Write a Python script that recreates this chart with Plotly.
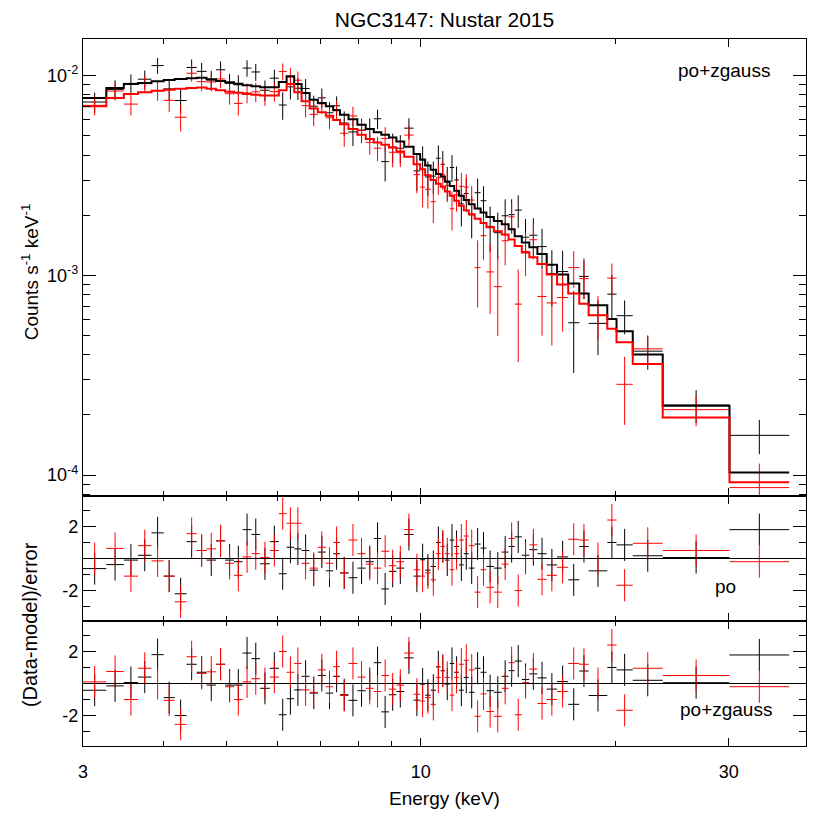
import numpy as np
import plotly.graph_objects as go
from plotly.subplots import make_subplots

# ---------------- data ----------------
# energy bin edges (keV), shared by both detectors
bin_edges = [3.0, 3.26, 3.47, 3.65, 3.83, 4.0, 4.16, 4.34, 4.50, 4.66, 4.82, 4.98, 5.14, 5.30,
             5.47, 5.64, 5.84, 6.03, 6.20, 6.37, 6.54, 6.73, 6.93, 7.13, 7.32, 7.50, 7.73, 7.98,
             8.22, 8.46, 8.69, 8.93, 9.17, 9.43, 9.75, 9.98, 10.16, 10.36, 10.56, 10.74, 10.9,
             11.09, 11.27, 11.46, 11.66, 11.87, 12.12, 12.38, 12.64, 12.98, 13.35, 13.68, 13.98,
             14.34, 14.73, 15.16, 15.67, 16.26, 16.92, 17.6, 18.2, 19.45, 20.1, 21.3, 23.7, 30.07, 37.2]

# po+zgauss folded model (counts/s/keV), black = FPMA, red = FPMB
model_black = [7.73e-3, 8.67e-3, 9.08e-3, 9.19e-3, 9.37e-3, 9.5e-3, 9.62e-3, 9.7e-3, 9.75e-3, 9.6e-3,
               9.4e-3, 9.25e-3, 9.1e-3, 8.95e-3, 8.85e-3, 8.75e-3, 8.75e-3, 9.3e-3, 9.92e-3, 9.08e-3,
               8.18e-3, 7.57e-3, 7.3e-3, 7.02e-3, 6.7e-3, 6.37e-3, 6.05e-3, 5.67e-3, 5.4e-3, 5.2e-3,
               5.05e-3, 4.9e-3, 4.68e-3, 4.4e-3, 4.05e-3, 3.8e-3, 3.55e-3, 3.38e-3, 3.22e-3, 3.12e-3,
               2.95e-3, 2.8e-3, 2.65e-3, 2.5e-3, 2.38e-3, 2.27e-3, 2.16e-3, 2.06e-3, 1.96e-3, 1.87e-3,
               1.8e-3, 1.7e-3, 1.57e-3, 1.46e-3, 1.38e-3, 1.28e-3, 1.13e-3, 1.01e-3, 9.1e-4, 8.1e-4,
               7.07e-4, 6.05e-4, 5.25e-4, 4.01e-4, 2.22e-4, 1.03e-4]
model_red = [7.02e-3, 7.73e-3, 8.09e-3, 8.25e-3, 8.4e-3, 8.5e-3, 8.6e-3, 8.68e-3, 8.72e-3, 8.6e-3,
             8.45e-3, 8.3e-3, 8.2e-3, 8.1e-3, 8.02e-3, 7.95e-3, 7.95e-3, 8.45e-3, 9.08e-3, 8.25e-3,
             7.43e-3, 6.85e-3, 6.55e-3, 6.3e-3, 6.0e-3, 5.7e-3, 5.4e-3, 5.05e-3, 4.82e-3, 4.63e-3,
             4.5e-3, 4.36e-3, 4.17e-3, 3.92e-3, 3.6e-3, 3.4e-3, 3.17e-3, 3.0e-3, 2.87e-3, 2.78e-3,
             2.63e-3, 2.5e-3, 2.36e-3, 2.23e-3, 2.12e-3, 2.02e-3, 1.92e-3, 1.83e-3, 1.74e-3, 1.66e-3,
             1.6e-3, 1.51e-3, 1.4e-3, 1.3e-3, 1.23e-3, 1.14e-3, 1.01e-3, 9.0e-4, 8.1e-4, 7.2e-4,
             6.3e-4, 5.4e-4, 4.62e-4, 3.6e-4, 1.94e-4, 9.2e-5]

# 1-sigma error as a fraction of the model level
frac_err = [0.11, 0.11, 0.11, 0.11, 0.11, 0.11, 0.11, 0.11, 0.11, 0.11,
            0.115, 0.115, 0.115, 0.115, 0.115, 0.115, 0.115, 0.12, 0.12, 0.12,
            0.12, 0.12, 0.12, 0.12, 0.12, 0.13, 0.13, 0.13, 0.13, 0.13,
            0.15, 0.15, 0.15, 0.15, 0.17, 0.17, 0.17, 0.17, 0.19, 0.19,
            0.19, 0.19, 0.19, 0.21, 0.21, 0.21, 0.21, 0.21, 0.23, 0.23,
            0.23, 0.23, 0.25, 0.25, 0.25, 0.25, 0.28, 0.28, 0.28, 0.28,
            0.25, 0.33, 0.23, 0.2, 0.19, 0.3]

# (data-model)/error for the po model
resid_po_black = [-0.63, -0.38, -0.1, 0.2, 1.6, -1.1, -2.2, 1.05, 0.5, -0.1, 1.1, -0.1, -0.2, 1.8, 1.5,
                  -0.33, 1.05, -0.95, 0.7, 0.6, 0.5, -0.73, 0.4, -0.77, 0.3, -0.9, -1.2, -0.6, -0.2,
                  1.25, -1.9, -0.8, -0.6, 1.5,
                  -1.1, -0.08, -0.73, -0.5, 1.0, 0.75, -0.1, 1.15, 0.75, -0.4, 0.3, -0.6, 0.9, 0.65,
                  -0.5, -0.6, 0.4, 0.75, 1.35, 0.2, 0.55, 0.3, -0.4, 0.1, -1.33, 0.75, -0.77, 1.0,
                  0.85, 0.17, 0.06, 1.8]
resid_po_red = [0.0, 0.63, -1.1, 0.8, -0.15, -1.1, -2.7, 1.55, 0.5, 0.6, 1.1, -0.3, -1.05, 0.1, 0.3,
                0.06, 0.5, 2.8, 2.2, 2.2, -0.3, -0.6, 0.7, -0.3, 1.0, -0.9, 1.15, 0.3, -0.35, -0.6,
                0.45, -0.45, -0.2, 1.8,
                -0.7, -1.1, -0.9, -1.33, 0.3, 0.75, 0.3, -0.7, 0.3, 1.15, 1.4, 0.8, -2.1, -0.7,
                -1.8, -2.1, -0.35, 1.25, -2.0, 0.0, 0.85, -1.3, -1.05, -0.55, 1.2, 1.15, 0.0, 2.4,
                -1.67, 0.95, 0.5, -0.2]

# (data-model)/error for the po+zgauss model
resid_gs_black = [-0.42, -0.15, 0.06, 0.4, 1.8, -0.88, -2.0, 1.2, 0.7, -0.1, 1.2, -0.1, -0.1, 1.9, 1.55,
                  -0.3, 0.95, -1.95, -0.95, -0.4, 0.45, -0.6, 0.5, -0.6, 0.45, -0.7, -1.05, -0.45, 0.0,
                  1.3, -1.77, -0.7, -0.5, 1.6,
                  -1.04, -0.04, -0.73, -0.42, 1.04, 0.8, -0.04, 1.25, 0.7, -0.42, 0.38, -0.55, 0.95,
                  0.7, -0.45, -0.55, 0.45, 0.8, 1.4, 0.25, 0.6, 0.35, -0.35, 0.12, -1.3, 0.78, -0.75,
                  1.0, 0.85, 0.2, 0.05, 1.78]
resid_gs_red = [0.1, 0.75, -1.0, 0.95, 0.0, -1.05, -2.55, 1.67, 0.63, 0.73, 1.2, -0.2, -1.0, 0.1, 0.3,
                0.0, 0.4, 2.0, 0.7, 1.25, -0.4, -0.55, 0.85, -0.2, 1.05, -0.75, 1.25, 0.4, -0.3, -0.5,
                0.5, -0.35, -0.1, 1.9,
                -0.67, -1.1, -0.88, -1.3, 0.38, 0.8, 0.38, -0.73, 0.38, 1.2, 1.45, 0.85, -2.05, -0.65,
                -1.75, -2.05, -0.3, 1.3, -1.95, 0.05, 0.9, -1.25, -1.0, -0.5, 1.25, 1.2, 0.0, 2.4,
                -1.67, 0.95, 0.5, -0.2]

x_tick_vals = [3, 10, 30]
x_tick_text = ["3", "10", "30"]
y_tick_vals = [1e-4, 1e-3, 1e-2]
y_tick_text = ["10<sup>-4</sup>", "10<sup>-3</sup>", "10<sup>-2</sup>"]
r_tick_vals = [-2, 2]
r_tick_text = ["-2", "2"]

# ---------------- derived ----------------
lo = np.array(bin_edges[:-1])
hi = np.array(bin_edges[1:])
cen = np.sqrt(lo * hi)
ex_plus = hi - cen
ex_minus = cen - lo

mb = np.array(model_black)
mr = np.array(model_red)
sig_b = mb * np.array(frac_err)
sig_r = mr * np.array(frac_err)
data_b = mb + np.array(resid_gs_black) * sig_b
data_r = mr + np.array(resid_gs_red) * sig_r

FONT = "Liberation Sans, Arial, Helvetica, sans-serif"
BLACK = "#000000"
RED = "#ff0000"

fig = make_subplots(rows=3, cols=1, shared_xaxes=True, vertical_spacing=0,
                    row_heights=[457, 125, 125])


def cross(x, y, ey, color, row, const=False):
    ey_spec = dict(type="constant", value=1) if const else dict(type="data", array=ey)
    ey_spec.update(color=color, thickness=1, width=0, visible=True)
    fig.add_trace(go.Scatter(
        x=x, y=y, mode="markers",
        marker=dict(size=1, color="rgba(0,0,0,0)"),
        error_x=dict(type="data", array=ex_plus, arrayminus=ex_minus, symmetric=False,
                     color=color, thickness=1, width=0, visible=True),
        error_y=ey_spec,
        showlegend=False, hoverinfo="skip"), row=row, col=1)


# top panel
cross(cen, data_b, sig_b, BLACK, 1)
cross(cen, data_r, sig_r, RED, 1)
step_x = list(bin_edges)
fig.add_trace(go.Scatter(x=step_x, y=list(model_black) + [model_black[-1]], mode="lines",
                         line=dict(shape="hv", color=BLACK, width=2), showlegend=False,
                         hoverinfo="skip"), row=1, col=1)
fig.add_trace(go.Scatter(x=step_x, y=list(model_red) + [model_red[-1]], mode="lines",
                         line=dict(shape="hv", color=RED, width=2), showlegend=False,
                         hoverinfo="skip"), row=1, col=1)

# residual panels
cross(cen, resid_po_black, None, BLACK, 2, const=True)
cross(cen, resid_po_red, None, RED, 2, const=True)
cross(cen, resid_gs_black, None, BLACK, 3, const=True)
cross(cen, resid_gs_red, None, RED, 3, const=True)
fig.add_hline(y=0, line=dict(color=BLACK, width=1), row=2, col=1)
fig.add_hline(y=0, line=dict(color=BLACK, width=1), row=3, col=1)

xrange_log = [np.log10(3.0), np.log10(39.5)]
axis_common = dict(showline=True, linecolor=BLACK, linewidth=1.4, mirror="allticks",
                   ticks="inside", tickcolor=BLACK, tickwidth=1.3, showgrid=False,
                   zeroline=False, tickfont=dict(family=FONT, size=18, color=BLACK))

for r in (1, 2, 3):
    fig.update_xaxes(type="log", range=xrange_log, tickmode="array", tickvals=x_tick_vals,
                     ticktext=x_tick_text, ticklen=8, ticklabelstandoff=9,
                     minor=dict(tickmode="array", tickvals=[4, 5, 6, 7, 8, 9, 20], ticklen=5,
                                ticks="inside", tickcolor=BLACK, tickwidth=1.3, showgrid=False),
                     showticklabels=(r == 3), row=r, col=1, **axis_common)

fig.update_yaxes(type="log", range=[np.log10(7.85e-5), np.log10(0.01525)], tickmode="array",
                 tickvals=y_tick_vals, ticktext=y_tick_text, ticklen=13,
                 minor=dict(tickmode="array",
                            tickvals=[8e-5, 9e-5] + [k * 1e-4 for k in range(2, 10)]
                            + [k * 1e-3 for k in range(2, 10)],
                            ticklen=7, ticks="inside", tickcolor=BLACK, tickwidth=1.3,
                            showgrid=False),
                 row=1, col=1, **axis_common)
for r in (2, 3):
    fig.update_yaxes(range=[-3.9, 3.9], tickmode="array", tickvals=r_tick_vals,
                     ticktext=r_tick_text, ticklen=13,
                     minor=dict(tickmode="array", tickvals=[-3, -1, 1, 3], ticklen=7,
                                ticks="inside", tickcolor=BLACK, tickwidth=1.3, showgrid=False),
                     row=r, col=1, **axis_common)

fig.update_xaxes(title=dict(text="Energy (keV)", font=dict(family=FONT, size=19, color=BLACK),
                            standoff=10), row=3, col=1)

ann_font = dict(family=FONT, size=19, color=BLACK)
fig.add_annotation(text="po+zgauss", xref="paper", yref="paper", x=0.887, y=0.956,
                   xanchor="center", yanchor="middle", showarrow=False, font=ann_font)
fig.add_annotation(text="po", xref="paper", yref="paper", x=0.889, y=0.226,
                   xanchor="center", yanchor="middle", showarrow=False, font=ann_font)
fig.add_annotation(text="po+zgauss", xref="paper", yref="paper", x=0.889, y=0.052,
                   xanchor="center", yanchor="middle", showarrow=False, font=ann_font)
fig.add_annotation(text="Counts s<sup>-1</sup> keV<sup>-1</sup>", xref="paper", yref="paper",
                   x=-0.0733, y=0.670, xanchor="center", yanchor="middle", textangle=-90,
                   showarrow=False, font=dict(family=FONT, size=19, color=BLACK))
fig.add_annotation(text="(Data-model)/error", xref="paper", yref="paper",
                   x=-0.0733, y=0.171, xanchor="center", yanchor="middle", textangle=-90,
                   showarrow=False, font=dict(family=FONT, size=20, color=BLACK))

# the page adds an 8 px body margin, so margins are offset by 8 px
fig.update_layout(
    width=830, height=830,
    margin=dict(l=75, r=31.5, t=31, b=92),
    paper_bgcolor="white", plot_bgcolor="white",
    title=dict(text="NGC3147: Nustar 2015", x=0.5, xref="paper", xanchor="center",
               y=1 - 12 / 830, yref="container", yanchor="middle",
               font=dict(family=FONT, size=21, color=BLACK)),
    font=dict(family=FONT, color=BLACK),
)

fig.write_html("out.html")
